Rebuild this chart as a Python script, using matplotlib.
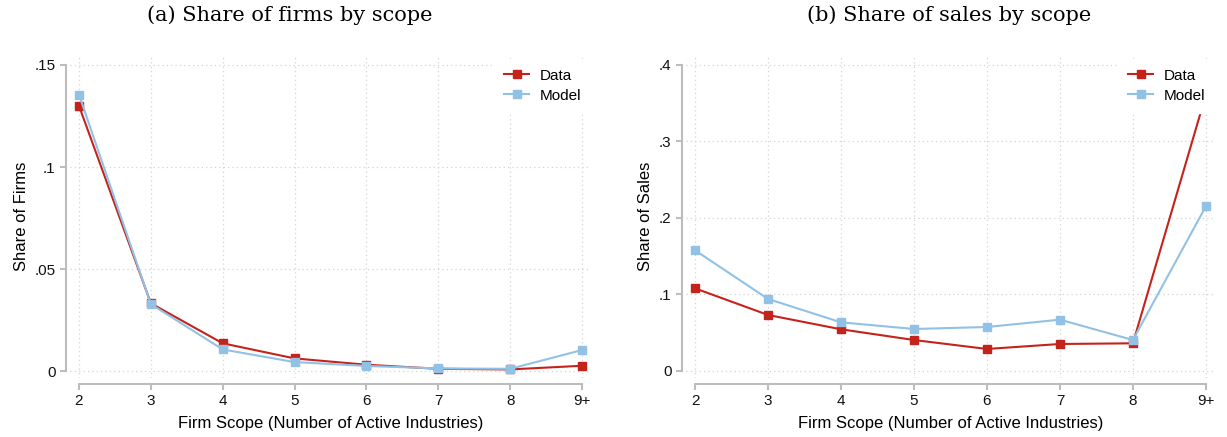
import numpy as np
import matplotlib
matplotlib.use('Agg')
import matplotlib.pyplot as plt
from matplotlib.ticker import FixedLocator, FixedFormatter

# --- Données ---
scope_labels = ['2', '3', '4', '5', '6', '7', '8', '9+']

firms_data = [0.130, 0.0332, 0.0136, 0.0062, 0.0031, 0.0011, 0.0008, 0.0026]
firms_model = [0.1355, 0.0328, 0.0106, 0.0044, 0.0025, 0.0013, 0.0011, 0.0103]

sales_data = [0.108, 0.0732, 0.0545, 0.0405, 0.0288, 0.0353, 0.0362, 0.361]
sales_model = [0.1577, 0.0941, 0.0636, 0.0549, 0.0575, 0.0671, 0.0405, 0.2153]

firms_ticks = [0, 0.05, 0.1, 0.15]
firms_ticklabels = ['0', '.05', '.1', '.15']
sales_ticks = [0, 0.1, 0.2, 0.3, 0.4]
sales_ticklabels = ['0', '.1', '.2', '.3', '.4']

# --- Style ---
red = '#c4231b'
blue = '#92c1e6'
axis_gray = '#bdbdbd'
plt.rcParams['font.family'] = ['Liberation Sans', 'DejaVu Sans']

W, H = 1227, 437
fig = plt.figure(figsize=(W / 100, H / 100), dpi=100)


def px_axes(left, top, right, bottom):
    return fig.add_axes([left / W, 1 - bottom / H, (right - left) / W, (bottom - top) / H])


def draw_panel(ax, data, model, yticks, yticklabels, ylim, ylabel):
    x = np.arange(len(scope_labels))
    ax.plot(x, data, color=red, lw=1.5, marker='s', ms=5.8, mec=red, label='Data', zorder=3)
    ax.plot(x, model, color=blue, lw=1.5, marker='s', ms=5.8, mec=blue, label='Model', zorder=3)
    ax.set_xlim(-0.125, len(scope_labels) - 1 + 0.125)
    ax.set_ylim(*ylim)
    ax.xaxis.set_major_locator(FixedLocator(x))
    ax.xaxis.set_major_formatter(FixedFormatter(scope_labels))
    ax.yaxis.set_major_locator(FixedLocator(yticks))
    ax.yaxis.set_major_formatter(FixedFormatter(yticklabels))
    ax.grid(True, color='#d4d4d4', linestyle=(0, (1, 2.5)), linewidth=0.9)
    ax.set_axisbelow(True)
    for s in ['top', 'right']:
        ax.spines[s].set_visible(False)
    ax.spines['left'].set_position(('outward', 3))
    ax.spines['bottom'].set_position(('outward', 4))
    ax.spines['left'].set_bounds(yticks[0], yticks[-1])
    ax.spines['bottom'].set_bounds(x[0], x[-1])
    for s in ['left', 'bottom']:
        ax.spines[s].set_color(axis_gray)
        ax.spines[s].set_linewidth(1.5)
    ax.tick_params(axis='both', color=axis_gray, width=1.5, length=4.5, pad=3,
                   labelsize=11, labelcolor='#111111')
    ax.set_ylabel(ylabel, fontsize=12, labelpad=4)
    ax.set_xlabel('Firm Scope (Number of Active Industries)', fontsize=12, labelpad=6)
    # légende opaque : elle masque le haut de la courbe "Data" comme dans l'original
    leg = ax.legend(loc='upper right', bbox_to_anchor=(1.0, 0.988), frameon=True,
                    fontsize=11, borderpad=0.65, borderaxespad=0, handlelength=1.6,
                    handletextpad=0.7, labelspacing=0.38, fancybox=False)
    leg.get_frame().set_facecolor('white')
    leg.get_frame().set_edgecolor('white')
    leg.get_frame().set_alpha(1)


ax1 = px_axes(70, 55, 591, 378)
draw_panel(ax1, firms_data, firms_model, firms_ticks, firms_ticklabels,
           (-0.0034, 0.1549), 'Share of Firms')

ax2 = px_axes(686, 55, 1215, 378)
draw_panel(ax2, sales_data, sales_model, sales_ticks, sales_ticklabels,
           (-0.00915, 0.413), 'Share of Sales')

fig.text(290 / W, 1 - 15 / H, '(a) Share of firms by scope', ha='center', va='center',
         fontsize=15, family=['DejaVu Serif'])
fig.text(949 / W, 1 - 15 / H, '(b) Share of sales by scope', ha='center', va='center',
         fontsize=15, family=['DejaVu Serif'])

fig.savefig('out.png', dpi=100)
